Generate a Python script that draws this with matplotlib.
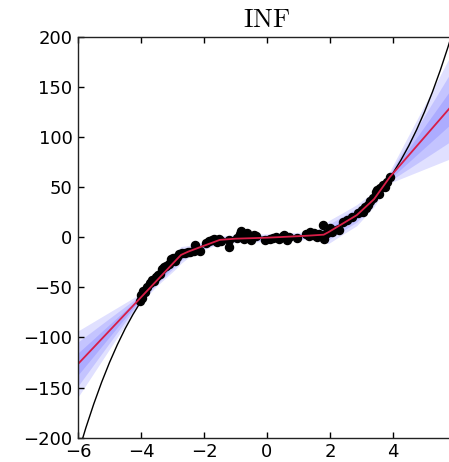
import numpy as np
import matplotlib
matplotlib.use('Agg')
import matplotlib.pyplot as plt

plt.rcParams['mathtext.fontset'] = 'cm'

DATA_X = [-4.03, -4.0, -3.97, -3.93, -3.88, -3.8, -3.72, -3.66, -3.6, -3.52,
          -3.47, -3.4, -3.33, -3.28, -3.2, -3.12, -3.05, -2.98, -2.93, -2.85,
          -2.78, -2.7, -2.6, -2.52, -2.45, -2.33, -2.28, -2.13,
          -1.95, -1.85, -1.75, -1.68, -1.6, -1.52, -1.45, -1.22, -1.2, -0.95,
          -0.87, -0.82, -0.78, -0.72, -0.65, -0.58, -0.5, -0.42, -0.35, -0.05,
          0.1, 0.2, 0.28, 0.38, 0.5, 0.55, 0.62, 0.7, 0.95, 1.25,
          1.32, 1.38, 1.45, 1.5, 1.58, 1.65, 1.7, 1.78, 1.8, 1.9,
          2.0, 2.05, 2.3, 2.42, 2.55, 2.7, 2.9, 3.0, 3.05, 3.1,
          3.15, 3.2, 3.27, 3.35, 3.45, 3.5, 3.55, 3.6, 3.68, 3.75, 3.8, 3.9]
DATA_Y = [-64, -58, -61, -54, -55, -50, -46, -43, -44, -40,
          -38, -37, -32, -30, -29, -27, -22, -21, -24, -20,
          -17, -16, -16, -15, -15, -14, -8, -14,
          -6, -4, -3, -2, -5, -2, -4, -3, -10, -1,
          3, 6, 1, -2, 4, -1, -3, 2, 1, -3,
          -2, -1, 0, -2, 1, 2, -3, 0, -1, 3,
          1, 5, 2, 4, 0, 3, 1, 12, -2, 4,
          9, 5, 7, 15, 17, 20, 24, 27, 25, 30,
          29, 32, 36, 39, 45, 47, 43, 49, 52, 50, 55, 60]

# ground-truth curve (black), sampled every 0.25
TRUE_X = [-6.0, -5.75, -5.5, -5.25, -5.0, -4.75, -4.5, -4.25, -4.0, -3.75, -3.5, -3.25,
          -3.0, -2.75, -2.5, -2.25, -2.0, -1.75, -1.5, -1.25, -1.0, -0.75, -0.5, -0.25,
          0.0, 0.25, 0.5, 0.75, 1.0, 1.25, 1.5, 1.75, 2.0, 2.25, 2.5, 2.75,
          3.0, 3.25, 3.5, 3.75, 4.0, 4.25, 4.5, 4.75, 5.0, 5.25, 5.5, 5.75, 6.0]
TRUE_Y = [-216, -190.1, -166.4, -144.7, -125, -107.2, -91.1, -76.8, -64, -52.7, -42.9, -34.3,
          -27, -20.8, -15.6, -11.4, -8, -5.4, -3.4, -2.0, -1, -0.42, -0.13, -0.02,
          0, 0.02, 0.13, 0.42, 1, 2.0, 3.4, 5.4, 8, 11.4, 15.6, 20.8,
          27, 34.3, 42.9, 52.7, 64, 76.8, 91.1, 107.2, 125, 144.7, 166.4, 190.1, 216]

# predictive mean and std (piecewise linear knots)
KNOT_X = [-6.0, -4.1, -3.5, -2.9, -2.73, -2.5, -2.0, -1.5, -1.0, 0.0, 1.0, 1.4,
          1.8, 1.95, 2.4, 2.85, 3.4, 3.9, 6.0]
PRED_MEAN = [-126.5, -63.3, -43.3, -23.3, -17.7, -14.4, -8.5, -2.7, -1.5, -0.5, 1.0, 1.7,
             2.5, 5.0, 13.5, 22.0, 38.0, 60.0, 136.0]
PRED_STD = [11.0, 1.8, 1.8, 2.8, 2.8, 2.0, 1.3, 1.3, 1.3, 1.3, 1.3, 1.3,
            2.5, 3.8, 3.6, 3.5, 2.5, 2.0, 18.5]


def main():
    fig = plt.figure(figsize=(4.49, 4.62), dpi=100)
    ax = fig.add_axes([0.1737, 0.0526, 0.8419, 0.8680])

    kx = np.array(KNOT_X)
    mu = np.array(PRED_MEAN)
    sd = np.array(PRED_STD)
    for k in (1, 2, 3):
        ax.fill_between(kx, mu - k * sd, mu + k * sd, color='#0000ff', alpha=0.12, lw=0)

    ax.plot(TRUE_X, TRUE_Y, color='black', lw=1.0)
    ax.plot(DATA_X, DATA_Y, 'o', color='black', ms=5.8, mec='black')
    ax.plot(kx, mu, color='#d81e48', lw=1.3)

    ax.set_xlim(-6, 6)
    ax.set_ylim(-200, 200)
    ax.set_xticks([-6, -4, -2, 0, 2, 4])
    ax.set_yticks([-200, -150, -100, -50, 0, 50, 100, 150, 200])
    ax.tick_params(direction='in', top=True, right=True, length=4, width=1,
                   labelsize=13, pad=4)
    for sp in ax.spines.values():
        sp.set_linewidth(1.0)
        sp.set_color('#222222')

    ax.set_title(r'$\mathrm{INF}$', fontsize=19, pad=7)

    fig.savefig('out.png', dpi=100)
    plt.close(fig)


if __name__ == '__main__':
    main()
